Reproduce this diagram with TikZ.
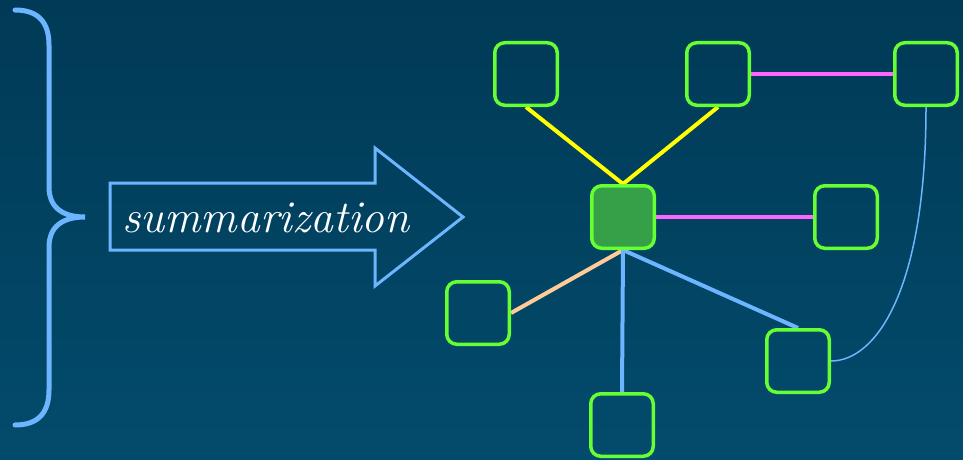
\documentclass[tikz,border=0pt]{standalone}
\pgfdeclarelayer{background}
\pgfsetlayers{background,main}
\definecolor{bgtop}{HTML}{003A56}
\definecolor{bgbot}{HTML}{034B6C}
\definecolor{lblue}{HTML}{6DB6FF}
\definecolor{lime}{HTML}{66FF33}
\definecolor{hubfill}{HTML}{35A048}
\definecolor{yel}{HTML}{FFFF00}
\definecolor{mag}{HTML}{FF66FF}
\definecolor{peach}{HTML}{FFCC99}
\tikzset{
  box/.style={draw=lime, line width=3.5pt, rounded corners=10pt, minimum size=62.5pt, inner sep=0pt},
  hub/.style={box, fill=hubfill},
  edge/.style={line width=4pt},
}
\begin{document}
\begin{tikzpicture}[x=1pt,y=-1pt]
\useasboundingbox (0,0) rectangle (963,460);
% nodes
\node[box] (tl) at (526,74) {};
\node[box] (tm) at (718,74) {};
\node[box] (tr) at (926,74) {};
\node[hub] (c) at (623,217) {};
\node[box] (rm) at (846,217) {};
\node[box] (ll) at (478,313) {};
\node[box] (br) at (798,361) {};
\node[box] (bb) at (622,425) {};
\begin{pgfonlayer}{background}
\shade[top color=bgtop, bottom color=bgbot] (0,0) rectangle (963,460);
\draw[edge, yel] (tl.south) -- (c.north);
\draw[edge, yel] (tm.south) -- (c.north);
\draw[edge, mag] (tm.east) -- (tr.west);
\draw[edge, mag] (c.east) -- (rm.west);
\draw[edge, peach] (c.south) -- (ll.east);
\draw[edge, lblue] (c.south) -- (bb.north);
\draw[edge, lblue] (c.south) -- (br.north);
\draw[lblue, line width=1.5pt] (tr.south) .. controls (926,290) and (876,361) .. (br.east);
\end{pgfonlayer}
% brace
\draw[lblue, line width=5pt, line cap=round]
  (15,10) .. controls (38,10) and (49,22) .. (49,45) -- (49,187)
  .. controls (49,207) and (62,217) .. (85,217)
  .. controls (62,217) and (49,227) .. (49,247) -- (49,390)
  .. controls (49,413) and (38,425) .. (15,425);
% arrow
\draw[lblue, line width=3pt, line join=miter]
  (110,183) -- (375,183) -- (375,148) -- (463,217) -- (375,286) -- (375,250) -- (110,250) -- cycle;
\node[text=white, font=\itshape\fontsize{45.5}{49}\selectfont, inner sep=0pt] (lbl) at (266,218) {summarization};
\end{tikzpicture}
\end{document}
